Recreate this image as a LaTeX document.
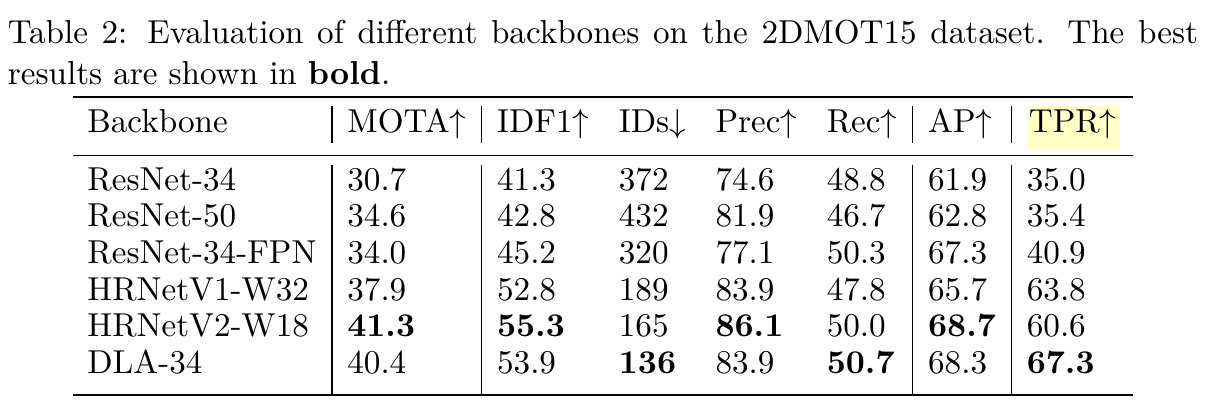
\documentclass[border=0pt]{standalone}
\usepackage{pgfplots}
\pgfplotsset{compat=1.18}
\usepackage{pgfplotstable}
\usepackage{booktabs}
\usepackage{xcolor}
\definecolor{hilite}{RGB}{255,255,200}

\pgfplotstableread{
Backbone MOTA IDF1 IDs Prec Rec AP TPR
ResNet-34 30.7 41.3 372 74.6 48.8 61.9 35.0
ResNet-50 34.6 42.8 432 81.9 46.7 62.8 35.4
ResNet-34-FPN 34.0 45.2 320 77.1 50.3 67.3 40.9
HRNetV1-W32 37.9 52.8 189 83.9 47.8 65.7 63.8
HRNetV2-W18 41.3 55.3 165 86.1 50.0 68.7 60.6
DLA-34 40.4 53.9 136 83.9 50.7 68.3 67.3
}\backbones

\pgfplotstableset{
  bold/.style={postproc cell content/.style={@cell content=\textbf{##1}}},
}

\begin{document}
\begin{tikzpicture}
\node[inner xsep=2.6pt, inner ysep=6.5pt] {\begin{minipage}{393pt}
\fontsize{10.95}{13.6}\selectfont
\hyphenpenalty=10000
\noindent Table 2: Evaluation of different backbones on the 2DMOT15 dataset. The best
results are shown in \textbf{bold}.\par
\vspace{2.6pt}
\centering
\setlength{\tabcolsep}{4.9pt}%
\renewcommand{\arraystretch}{0.89}%
\pgfplotstabletypeset[
  string type,
  column type=l,
  every head row/.style={before row=\toprule, after row={\noalign{\vskip 2.1pt}\midrule}},
  every last row/.style={after row={\noalign{\global\aboverulesep=0pt}\bottomrule}},
  columns/Backbone/.style={column type={l|}},
  columns/MOTA/.style={column name={MOTA$\uparrow$}, column type={l|}},
  columns/IDF1/.style={column name={IDF1$\uparrow$}},
  columns/IDs/.style={column name={IDs$\downarrow$}},
  columns/Prec/.style={column name={Prec$\uparrow$}},
  columns/Rec/.style={column name={Rec$\uparrow$}, column type={l|}},
  columns/AP/.style={column name={AP$\uparrow$}, column type={l|}},
  columns/TPR/.style={column name={{\setlength{\fboxsep}{0.7pt}\smash{\colorbox{hilite}{\rule[-5.2pt]{0pt}{13.1pt}TPR$\uparrow$}}}}},
  every row 4 column 1/.style={bold},
  every row 4 column 2/.style={bold},
  every row 4 column 4/.style={bold},
  every row 4 column 6/.style={bold},
  every row 5 column 3/.style={bold},
  every row 5 column 5/.style={bold},
  every row 5 column 7/.style={bold},
  every row 5 column 0/.style={postproc cell content/.style={@cell content={##1\rule[-6.6pt]{0pt}{0pt}}}},
]\backbones
\end{minipage}};
\end{tikzpicture}
\end{document}
